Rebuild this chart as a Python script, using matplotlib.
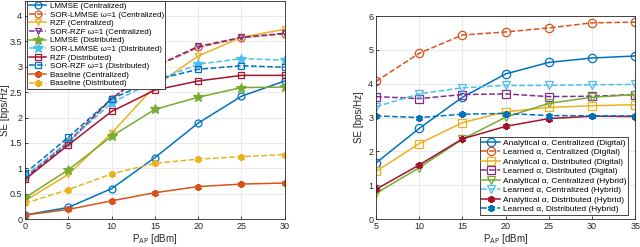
import matplotlib
matplotlib.use('Agg')
import matplotlib.pyplot as plt
import numpy as np

plt.rcParams['font.family'] = ['Liberation Sans', 'DejaVu Sans']

#%% Data - left panel
p_left = [0, 5, 10, 15, 20, 25, 30]
lmmse_c = [0.08, 0.23, 0.60, 1.21, 1.89, 2.42, 2.72]
sor_lmmse_c = [0.82, 1.53, 2.37, 3.00, 3.38, 3.57, 3.65]
rzf_c = [0.36, 0.88, 1.69, 2.62, 3.21, 3.58, 3.74]
sor_rzf_c = [0.80, 1.50, 2.37, 3.01, 3.40, 3.58, 3.66]
lmmse_d = [0.42, 0.97, 1.63, 2.16, 2.40, 2.59, 2.60]
sor_lmmse_d = [0.85, 1.52, 2.29, 2.72, 3.05, 3.16, 3.13]
rzf_d = [0.78, 1.46, 2.12, 2.54, 2.72, 2.83, 2.83]
sor_rzf_d = [0.90, 1.61, 2.37, 2.74, 2.95, 3.02, 2.99]
base_c = [0.08, 0.19, 0.36, 0.52, 0.64, 0.69, 0.71]
base_d = [0.31, 0.58, 0.89, 1.10, 1.18, 1.23, 1.27]

#%% Data - right panel
p_right = [5, 10, 15, 20, 25, 30, 35]
an_c_dig = [1.66, 2.68, 3.60, 4.29, 4.63, 4.76, 4.82]
le_c_dig = [4.07, 4.90, 5.44, 5.53, 5.65, 5.80, 5.82]
an_d_dig = [1.41, 2.23, 2.85, 3.17, 3.30, 3.35, 3.38]
le_d_dig = [3.62, 3.56, 3.68, 3.70, 3.62, 3.63, 3.68]
an_c_hyb = [0.76, 1.52, 2.36, 3.01, 3.42, 3.60, 3.68]
le_c_hyb = [3.32, 3.70, 3.88, 3.95, 3.95, 3.97, 3.98]
an_d_hyb = [0.88, 1.60, 2.37, 2.74, 2.97, 3.04, 3.03]
le_d_hyb = [3.05, 3.00, 3.10, 3.12, 3.06, 3.05, 3.05]

# MATLAB default colours
blue = '#0072BD'
orange = '#D95319'
yellow = '#EDB120'
purple = '#7E2F8E'
green = '#77AC30'
cyan = '#4DBEEE'
red = '#A2142F'

ast = (6, 2, 0)

fig = plt.figure(figsize=(6.4, 2.47), dpi=100)
ax1 = fig.add_axes([0.039, 0.113, 0.406, 0.884])
ax2 = fig.add_axes([0.5875, 0.113, 0.405, 0.822])

def style_axes(ax):
    ax.grid(True, color='#e6e6e6', linewidth=0.6)
    ax.set_axisbelow(True)
    for s in ax.spines.values():
        s.set_color('#262626')
        s.set_linewidth(0.6)
    ax.tick_params(labelsize=6.5, colors='#262626', direction='in', length=2.5, width=0.6, pad=2)

#%% Left plot
left_series = [
    (lmmse_c, blue, 'o', '-', 'none', 'LMMSE (Centralized)'),
    (sor_lmmse_c, orange, 'o', '--', 'none', 'SOR-LMMSE ω=1 (Centralized)'),
    (rzf_c, yellow, 'v', '-', 'none', 'RZF (Centralized)'),
    (sor_rzf_c, purple, 'v', '--', 'none', 'SOR-RZF ω=1 (Centralized)'),
    (lmmse_d, green, '*', '-', green, 'LMMSE (Distributed)'),
    (sor_lmmse_d, cyan, '*', '--', cyan, 'SOR-LMMSE ω=1 (Distributed)'),
    (rzf_d, red, 's', '-', 'none', 'RZF (Distributed)'),
    (sor_rzf_d, blue, 's', '--', 'none', 'SOR-RZF ω=1 (Distributed)'),
    (base_c, orange, ast, '-', orange, 'Baseline (Centralized)'),
    (base_d, yellow, ast, '--', yellow, 'Baseline (Distributed)'),
]
for y, c, m, ls, fc, lab in left_series:
    ms = 7 if m == '*' else 5
    ax1.plot(p_left, y, color=c, marker=m, linestyle=ls, linewidth=1.1,
             markerfacecolor=fc, markeredgecolor=c, markersize=ms,
             markeredgewidth=1.6 if m == ast else 0.9, label=lab)

ax1.set_xlim(0, 30)
ax1.set_ylim(0, 4.3)
ax1.set_xticks([0, 5, 10, 15, 20, 25, 30])
ax1.set_yticks([0, 0.5, 1, 1.5, 2, 2.5, 3, 3.5, 4])
ax1.set_yticklabels(['0', '0.5', '1', '1.5', '2', '2.5', '3', '3.5', '4'])
style_axes(ax1)
ax1.set_xlabel(r'P$_{\mathrm{AP}}$ [dBm]', fontsize=7, color='#262626', labelpad=1)
ax1.set_ylabel('SE [bps/Hz]', fontsize=7, color='#262626', labelpad=0)
leg1 = ax1.legend(loc='upper left', bbox_to_anchor=(0.008, 1.0), fontsize=5.8,
                  handlelength=2.2, labelspacing=0.12, borderpad=0.2,
                  handletextpad=0.4, borderaxespad=0, fancybox=False, framealpha=1)
leg1.get_frame().set_edgecolor('#262626')
leg1.get_frame().set_linewidth(0.6)

#%% Right plot
right_series = [
    (an_c_dig, blue, 'o', '-', 'Analytical α, Centralized (Digital)'),
    (le_c_dig, orange, 'o', '--', 'Learned α, Centralized (Digital)'),
    (an_d_dig, yellow, 's', '-', 'Analytical α, Distributed (Digital)'),
    (le_d_dig, purple, 's', '--', 'Learned α, Distributed (Digital)'),
    (an_c_hyb, green, 'v', '-', 'Analytical α, Centralized (Hybrid)'),
    (le_c_hyb, cyan, 'v', '--', 'Learned α, Centralized (Hybrid)'),
    (an_d_hyb, red, ast, '-', 'Analytical α, Distributed (Hybrid)'),
    (le_d_hyb, blue, ast, '--', 'Learned α, Distributed (Hybrid)'),
]
for y, c, m, ls, lab in right_series:
    filled = m == ast
    ax2.plot(p_right, y, color=c, marker=m, linestyle=ls, linewidth=1.1,
             markerfacecolor=c if filled else 'none', markeredgecolor=c,
             markersize=5 if filled else 6,
             markeredgewidth=1.6 if filled else 0.9, label=lab)

ax2.set_xlim(5, 35)
ax2.set_ylim(0, 6)
ax2.set_xticks([5, 10, 15, 20, 25, 30, 35])
ax2.set_yticks([0, 1, 2, 3, 4, 5, 6])
style_axes(ax2)
ax2.set_xlabel(r'P$_{\mathrm{AP}}$ [dBm]', fontsize=7, color='#262626', labelpad=1)
ax2.set_ylabel('SE [bps/Hz]', fontsize=7, color='#262626', labelpad=3)
leg2 = ax2.legend(loc='lower right', bbox_to_anchor=(0.973, 0.02), fontsize=6,
                  handlelength=2.2, labelspacing=0.2, borderpad=0.2,
                  handletextpad=0.4, borderaxespad=0, fancybox=False, framealpha=1)
leg2.get_frame().set_edgecolor('#262626')
leg2.get_frame().set_linewidth(0.6)

fig.savefig('out.png', dpi=100)
